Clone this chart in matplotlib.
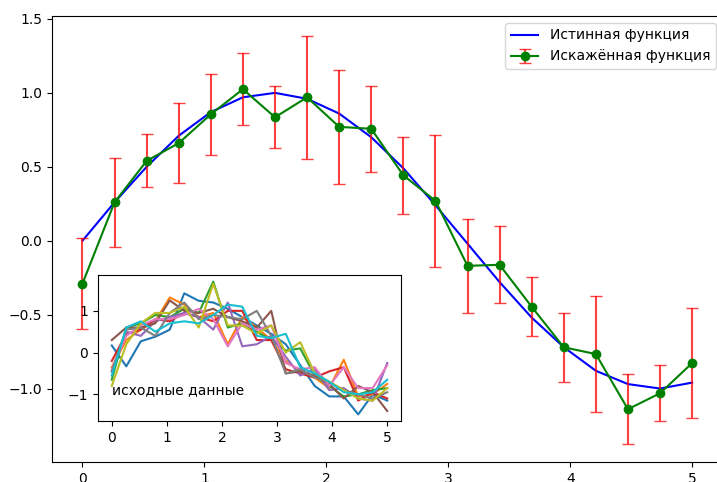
import matplotlib
matplotlib.use('Agg')
import matplotlib.pyplot as plt
import numpy as np

# x grid (20 points from 0 to 5)
x = np.linspace(0, 5, 20)

# true function
y_true = [0.0, 0.26, 0.50, 0.71, 0.87, 0.97, 1.0, 0.96, 0.86, 0.70,
          0.49, 0.24, -0.02, -0.28, -0.52, -0.72, -0.88, -0.97, -1.0, -0.96]

# distorted function (green) and its errors (red)
y_noisy = [-0.29, 0.26, 0.54, 0.66, 0.855, 1.025, 0.835, 0.97, 0.77, 0.757,
           0.442, 0.27, -0.17, -0.163, -0.447, -0.721, -0.767, -1.14, -1.032, -0.828]
y_err = [0.31, 0.30, 0.18, 0.27, 0.275, 0.245, 0.21, 0.415, 0.385, 0.29,
         0.26, 0.447, 0.32, 0.26, 0.20, 0.235, 0.39, 0.235, 0.19, 0.37]

# raw data for the inset
raw0 = [0.17, -0.33, 0.27, 0.38, 0.55, 1.42, 1.24, 1.20, 1.05, 0.85, 0.65, 0.45, 0.20, -0.30, -0.80, -1.05, -1.05, -1.48, -1.00, -1.15]
raw1 = [-0.35, 0.30, 0.55, 0.75, 1.32, 1.15, 0.85, 0.95, 0.20, 0.85, 0.60, 0.30, -0.20, -0.45, -0.60, -0.85, -0.17, -1.05, -1.00, -0.75]
raw2 = [-0.65, 0.60, 0.70, 0.90, 0.85, 1.05, 0.95, 1.70, 0.60, 0.70, 0.50, 0.30, 0.05, 0.10, -0.55, -0.80, -1.05, -1.00, -0.90, -0.85]
raw3 = [-0.20, 0.45, 0.55, 0.80, 0.75, 0.95, 0.85, 0.75, 1.00, 1.00, 0.30, 0.30, -0.40, -0.50, -0.60, -0.45, -0.35, -1.15, -0.95, -1.10]
raw4 = [-0.45, 0.50, 0.40, 0.75, 0.85, 0.95, 0.85, 0.55, 1.20, 0.15, 0.20, 0.40, -0.10, -0.55, -0.40, -0.90, -0.85, -1.10, -1.15, -0.25]
raw5 = [0.30, 0.60, 0.60, 0.70, 1.25, 1.00, 0.95, 1.05, 0.85, 0.75, 0.60, 1.00, -0.50, -0.45, -0.55, -0.75, -1.10, -0.80, -0.95, -1.40]
raw6 = [-0.40, 0.40, 0.65, 0.80, 0.80, 0.90, 1.05, 0.80, 0.15, 0.70, 0.55, 0.65, -0.25, -0.40, -0.35, -0.80, -0.35, -0.85, -0.85, -0.30]
raw7 = [-0.45, 0.55, 0.60, 0.40, 0.95, 1.20, 0.80, 0.90, 0.85, 0.80, 1.00, 0.40, -0.50, -0.40, -0.60, -0.70, -0.90, -1.00, -1.10, -0.95]
raw8 = [-0.80, 0.20, 0.70, 0.95, 0.95, 1.10, 0.60, 1.65, 0.65, 0.65, 0.45, 0.65, 0.00, 0.25, -0.50, -0.70, -0.90, -1.10, -1.15, -0.85]
raw9 = [-0.55, 0.60, 0.75, 0.50, 0.70, 0.75, 0.70, 0.90, 1.15, 1.10, 0.40, 0.35, 0.45, -0.35, -0.50, -0.70, -0.95, -1.00, -0.95, -0.65]
raw = [raw0, raw1, raw2, raw3, raw4, raw5, raw6, raw7, raw8, raw9]

fig = plt.figure(figsize=(7.17, 4.82), dpi=100)
ax = fig.add_axes([52/717, 20/482, 670.6/717, 446/482])

ax.plot(x, y_true, 'b-', label='Истинная функция')
ax.errorbar(x, y_noisy, yerr=y_err, fmt='g-o', ecolor=(1, 0, 0, 0.75), capsize=4.5,
            label='Искажённая функция')
ax.set_xlim(-0.25, 5.25)
ax.set_ylim(-1.497, 1.52)
ax.legend(loc='upper right')

ins = fig.add_axes([98/717, 61/482, 303/717, 146/482])
for r in raw:
    ins.plot(x, r)
ins.text(0, -1, 'исходные данные')

fig.savefig('out.png', dpi=100)
